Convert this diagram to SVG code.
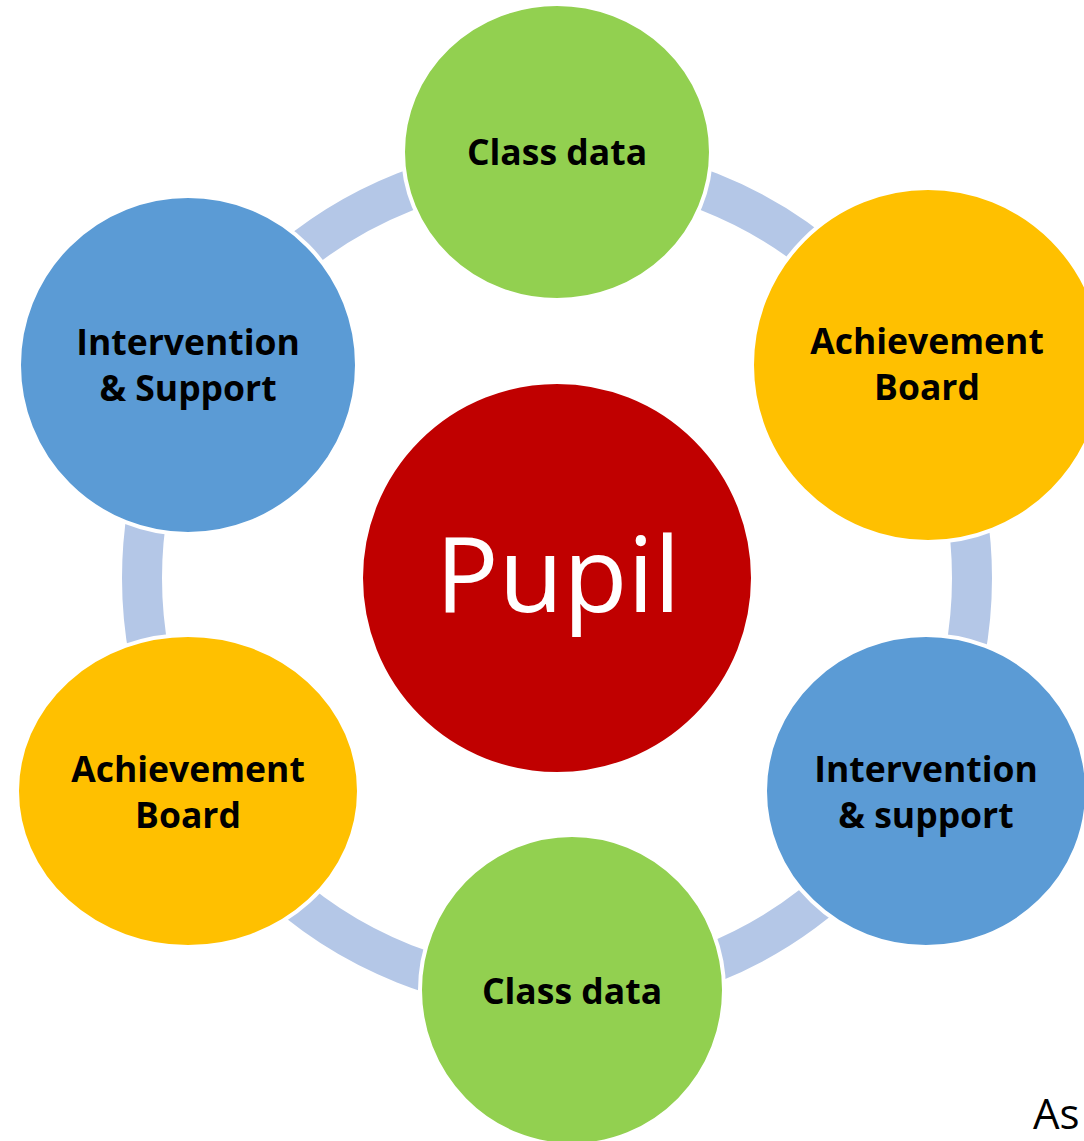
<svg xmlns="http://www.w3.org/2000/svg" width="1084" height="1141" viewBox="0 0 1084 1141">
<style>
.node{stroke:#fff;stroke-width:4}
.green{fill:#92D050}.orange{fill:#FFC000}.blue{fill:#5B9BD5}.red{fill:#C00000}
.lbl{font-family:"Open Sans","Noto Sans",sans-serif;font-weight:bold;font-size:35.5px;fill:#000;text-anchor:middle}
.big{font-family:"Open Sans","Noto Sans",sans-serif;font-size:105px;fill:#fff;text-anchor:middle}
</style>
<rect width="1084" height="1141" fill="#fff"/>
<g id="connectors">
<circle cx="557" cy="578" r="415" fill="none" stroke="#B4C7E7" stroke-width="40"/>
</g>
<g id="pupil">
<circle class="node red" cx="557" cy="578" r="196"/>
<text class="big" x="558" y="612">Pupil</text>
</g>
<g id="class-data-top">
<ellipse class="node green" cx="557" cy="152" rx="154" ry="148"/>
<text class="lbl" x="557" y="165">Class data</text>
</g>
<g id="achievement-board-right">
<ellipse class="node orange" cx="928" cy="365" rx="176" ry="177"/>
<text class="lbl" x="927" y="354">Achievement</text>
<text class="lbl" x="927" y="400">Board</text>
</g>
<g id="intervention-support-right">
<ellipse class="node blue" cx="926" cy="791" rx="161" ry="156"/>
<text class="lbl" x="926" y="782">Intervention</text>
<text class="lbl" x="926" y="828">&amp; support</text>
</g>
<g id="class-data-bottom">
<ellipse class="node green" cx="572" cy="990" rx="152" ry="155"/>
<text class="lbl" x="572" y="1004">Class data</text>
</g>
<g id="achievement-board-left">
<ellipse class="node orange" cx="188" cy="791" rx="171" ry="156"/>
<text class="lbl" x="188" y="782">Achievement</text>
<text class="lbl" x="188" y="828">Board</text>
</g>
<g id="intervention-support-left">
<ellipse class="node blue" cx="188" cy="365" rx="169" ry="169"/>
<text class="lbl" x="188" y="355">Intervention</text>
<text class="lbl" x="188" y="401">&amp; Support</text>
</g>
<text x="1033" y="1129" font-family="'Open Sans','Noto Sans',sans-serif" font-size="42" fill="#000">As</text>
</svg>
